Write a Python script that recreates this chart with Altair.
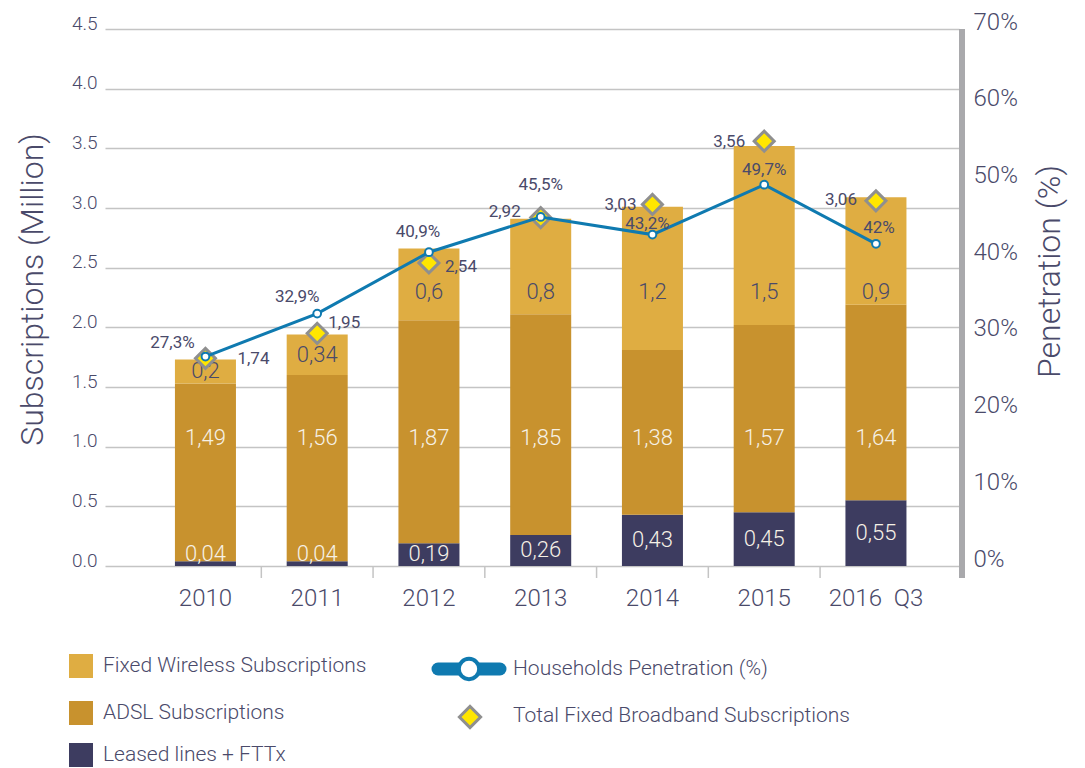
import altair as alt
import pandas as pd

# ---------------- data ----------------
years = ["2010", "2011", "2012", "2013", "2014", "2015", "2016\u00a0\u00a0Q3"]
leased = [0.04, 0.04, 0.19, 0.26, 0.43, 0.45, 0.55]
adsl = [1.49, 1.56, 1.87, 1.85, 1.38, 1.57, 1.64]
wireless = [0.2, 0.34, 0.6, 0.8, 1.2, 1.5, 0.9]
totals = [1.74, 1.95, 2.54, 2.92, 3.03, 3.56, 3.06]
penetration = [27.3, 32.9, 40.9, 45.5, 43.2, 49.7, 42.0]

series_names = ["Leased lines + FTTx", "ADSL Subscriptions", "Fixed Wireless Subscriptions"]
series_values = [leased, adsl, wireless]

# ---------------- style ----------------
FONT = "Roboto"
FW = 300          # large text
FW_SMALL = 400    # small annotation text
TXT = "#4A4A6A"
LIGHT_TXT = "#F6F1E6"
GRID = "#C4C4C4"
BLUE = "#0F7AB0"
YELLOW = "#FFE600"
DIAMOND_STROKE = "#8F8F8F"
series_colors = ["#3D3C60", "#C8922E", "#DFAD42"]

W, H = 854, 537
P_INNER, P_OUTER, ALIGN = 0.454, 0.548, 0.571
STEP = W / (len(years) - P_INNER + 2 * P_OUTER)
TICK_SHIFT = STEP * P_INNER / 2  # from band end to midway between bars

LEASED_LABEL_FLOOR = 0.1
ADSL_LABEL_LEVEL = 1.07
WIRELESS_LABEL_CAP = 2.3

# label placement (dx, dy, align) per category index
TOTAL_PLACE = [(32, 1, "left"), (11, -10, "left"), (16, 4, "left"), (-20, -6, "right"),
               (-16, 1, "right"), (-19, 1, "right"), (-19, -1, "right")]
PEN_PLACE = [(-33, -14), (-20, -17), (-11, -20), (0, -32), (-5, -11), (0, -15), (3, -16)]


def fmt(v):
    return f"{v:g}".replace(".", ",")


# ---------------- tables ----------------
rows = []
for si, (name, vals) in enumerate(zip(series_names, series_values)):
    for yi, yr in enumerate(years):
        base = sum(series_values[k][yi] for k in range(si))
        mid = base + vals[yi] / 2
        if si == 0:
            ly = max(mid, LEASED_LABEL_FLOOR)
        elif si == 1:
            ly = ADSL_LABEL_LEVEL
        else:
            ly = min(mid, WIRELESS_LABEL_CAP)
        rows.append({"year": yr, "series": name, "order": si, "value": vals[yi],
                     "label": fmt(vals[yi]), "label_y": ly})
bars_df = pd.DataFrame(rows)

pts_df = pd.DataFrame({
    "year": years,
    "idx": list(range(len(years))),
    "total": totals,
    "total_label": [fmt(v) for v in totals],
    "pen": penetration,
    "pen_label": [fmt(v) + "%" for v in penetration],
})
ticks_df = pd.DataFrame({"year": years[:-1]})

# ---------------- scales / axes ----------------
xscale = alt.Scale(domain=years, paddingInner=P_INNER, paddingOuter=P_OUTER, align=ALIGN)
yL = alt.Scale(domain=[0, 4.5], nice=False, zero=True)
yR = alt.Scale(domain=[0, 70], nice=False, zero=True)

xaxis = alt.Axis(title=None, domain=False, ticks=False, tickSize=0, grid=False,
                 labelFontSize=24, labelColor=TXT, labelFont=FONT, labelFontWeight=FW,
                 labelPadding=39, labelBaseline="alphabetic", labelAngle=0)
yaxisL = alt.Axis(title="Subscriptions (Million)", orient="left",
                  values=[0, 0.5, 1.0, 1.5, 2.0, 2.5, 3.0, 3.5, 4.0, 4.5], format=".1f",
                  domain=False, ticks=False, labelPadding=8, labelFontSize=19,
                  labelColor=TXT, labelFont=FONT, labelFontWeight=FW, labelBaseline="alphabetic",
                  grid=True, gridColor=GRID, gridWidth=1.5,
                  titleFontSize=32, titleColor=TXT, titleFont=FONT, titleFontWeight=FW,
                  titleAngle=270, titleX=-73, titleY=260, titleAlign="center",
                  titleBaseline="middle")
yaxisR = alt.Axis(title="Penetration (%)", orient="right",
                  values=[0, 10, 20, 30, 40, 50, 60, 70], labelExpr="datum.value + '%'",
                  domain=False, ticks=False, labelPadding=14, labelFontSize=24,
                  labelColor=TXT, labelFont=FONT, labelFontWeight=FW, labelBaseline="alphabetic",
                  grid=False,
                  titleFontSize=32, titleColor=TXT, titleFont=FONT, titleFontWeight=FW,
                  titleAngle=270, titleX=90, titleY=242, titleAlign="center",
                  titleBaseline="middle")


def X(**kw):
    return alt.X("year:N", scale=xscale, axis=xaxis, **kw)


def YL(field, **kw):
    return alt.Y(field, scale=yL, axis=yaxisL, **kw)


def YR(field):
    return alt.Y(field, scale=yR, axis=yaxisR)


# ---------------- left-scale layers ----------------
bars = alt.Chart(bars_df).mark_bar().encode(
    x=X(),
    y=YL("value:Q", stack="zero"),
    color=alt.Color("series:N", scale=alt.Scale(domain=series_names, range=series_colors), legend=None),
    order=alt.Order("order:Q"),
)

bar_labels_light = alt.Chart(bars_df).transform_filter(alt.datum.order < 2).mark_text(
    font=FONT, fontWeight=FW, fontSize=22, baseline="middle", color=LIGHT_TXT
).encode(x=X(), y=YL("label_y:Q", stack=None), text="label:N")

bar_labels_dark = alt.Chart(bars_df).transform_filter(alt.datum.order == 2).mark_text(
    font=FONT, fontWeight=FW, fontSize=22, baseline="middle", color=TXT
).encode(x=X(), y=YL("label_y:Q", stack=None), text="label:N")

ticks = alt.Chart(ticks_df).mark_rule(color=GRID, strokeWidth=1.5, xOffset=TICK_SHIFT).encode(
    x=X(bandPosition=1),
    y=alt.value(H),
    y2=alt.value(H + 12),
)

diamonds = alt.Chart(pts_df).mark_point(
    shape="diamond", filled=True, fill=YELLOW, stroke=DIAMOND_STROKE,
    strokeWidth=3, size=400, opacity=1,
).encode(x=X(), y=YL("total:Q"))

total_labels = []
for i, (dx, dy, al) in enumerate(TOTAL_PLACE):
    total_labels.append(
        alt.Chart(pts_df).transform_filter(alt.datum.idx == i).mark_text(
            font=FONT, fontWeight=FW_SMALL, fontSize=17, color=TXT, dx=dx, dy=dy, align=al,
            baseline="middle"
        ).encode(x=X(), y=YL("total:Q"), text="total_label:N")
    )

left = alt.layer(bars, bar_labels_light, bar_labels_dark, ticks, diamonds, *total_labels)

# ---------------- right-scale layers ----------------
line = alt.Chart(pts_df).mark_line(color=BLUE, strokeWidth=3).encode(x=X(), y=YR("pen:Q"))
circles = alt.Chart(pts_df).mark_point(
    shape="circle", filled=True, fill="white", stroke=BLUE, strokeWidth=2, size=60, opacity=1
).encode(x=X(), y=YR("pen:Q"))

pen_labels = []
for i, (dx, dy) in enumerate(PEN_PLACE):
    pen_labels.append(
        alt.Chart(pts_df).transform_filter(alt.datum.idx == i).mark_text(
            font=FONT, fontWeight=FW_SMALL, fontSize=17, color=TXT, dx=dx, dy=dy, align="center",
            baseline="middle"
        ).encode(x=X(), y=YR("pen:Q"), text="pen_label:N")
    )

right = alt.layer(line, circles, *pen_labels)

# ---------------- decorations (right axis bar + legend) ----------------
one = alt.Data(values=[{"k": 0}])

axis_bar = alt.Chart(one).mark_rule(color="#A9A9AC", strokeWidth=6).encode(
    x=alt.value(W + 3), y=alt.value(0), y2=alt.value(H + 12)
)

LEG_FS = 21
legend_layers = []
sq_rows = [(2, 625), (1, 672), (0, 714)]  # (series index, top y)
for si, top in sq_rows:
    legend_layers.append(
        alt.Chart(one).mark_rect(color=series_colors[si]).encode(
            x=alt.value(-36), x2=alt.value(-12), y=alt.value(top), y2=alt.value(top + 24)
        )
    )
    legend_layers.append(
        alt.Chart(one).mark_text(text=series_names[si], font=FONT, fontWeight=FW,
                                 fontSize=LEG_FS, color=TXT,
                                 align="left", baseline="middle").encode(
            x=alt.value(-2), y=alt.value(top + 12)
        )
    )

legend_layers.append(
    alt.Chart(one).mark_rule(color=BLUE, strokeWidth=13, strokeCap="round").encode(
        x=alt.value(333), x2=alt.value(395), y=alt.value(640)
    )
)
legend_layers.append(
    alt.Chart(one).mark_point(shape="circle", filled=True, fill="white", stroke=BLUE,
                              strokeWidth=4, size=415, opacity=1).encode(
        x=alt.value(364), y=alt.value(640)
    )
)
legend_layers.append(
    alt.Chart(one).mark_text(text="Households Penetration (%)", font=FONT, fontWeight=FW,
                             fontSize=LEG_FS, color=TXT, align="left", baseline="middle").encode(
        x=alt.value(408), y=alt.value(640)
    )
)
legend_layers.append(
    alt.Chart(one).mark_point(shape="diamond", filled=True, fill=YELLOW, stroke=DIAMOND_STROKE,
                              strokeWidth=3, size=450, opacity=1).encode(
        x=alt.value(365), y=alt.value(688)
    )
)
legend_layers.append(
    alt.Chart(one).mark_text(text="Total Fixed Broadband Subscriptions", font=FONT, fontWeight=FW,
                             fontSize=LEG_FS, color=TXT, align="left", baseline="middle").encode(
        x=alt.value(408), y=alt.value(687)
    )
)

chart = alt.layer(left, right, axis_bar, *legend_layers).resolve_scale(
    y="independent"
).properties(
    width=W,
    height=H,
    autosize=alt.AutoSizeParams(type="none"),
    padding={"left": 105, "top": 29, "right": 126, "bottom": 202},
    background="white",
).configure(font=FONT, view=alt.ViewConfig(stroke=None))

chart.save("out.html", embed_options={"renderer": "svg", "actions": False})
